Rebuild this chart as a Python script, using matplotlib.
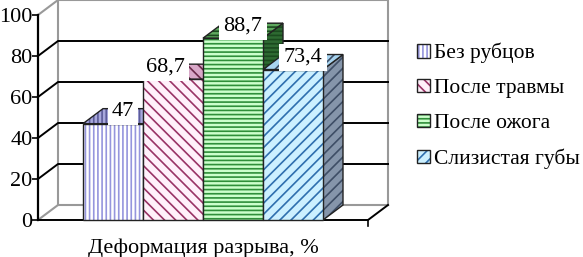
import matplotlib
matplotlib.use("Agg")
import matplotlib.pyplot as plt
from matplotlib.patches import Polygon, Patch
from matplotlib.legend_handler import HandlerTuple

# data
categories = ["Без рубцов", "После травмы", "После ожога", "Слизистая губы"]
values = [47, 68.7, 88.7, 73.4]
value_labels = ["47", "68,7", "88,7", "73,4"]
yticks = [0, 20, 40, 60, 80, 100]
xlabel = "Деформация разрыва, %"

# styles: front face, hatch colour, top face, side face, side hatch, hatch
front_col = ["#ffffff", "#fff0fa", "#ccffcc", "#ccf0ff"]
hatch_col = ["#9595dd", "#993366", "#2f8f3a", "#2f6fae"]
top_col = ["#a8a8dc", "#d8a8c8", "#5fa85f", "#a8d4f0"]
side_col = ["#8888c0", "#a86a8a", "#2e6a32", "#8595aa"]
side_hatch_col = ["#5c5c99", "#6a2a4a", "#1a4a1e", "#3e4e66"]
hatches = ["||||", "\\\\\\", "----", "///"]
label_dx_px = [0, -18, 0, 0]

plt.rcParams["font.family"] = "serif"
plt.rcParams["font.serif"] = ["Liberation Serif", "Times New Roman", "DejaVu Serif"]
plt.rcParams["hatch.linewidth"] = 1.2
FS = 16

W, H = 583, 257
fig = plt.figure(figsize=(W / 100, H / 100), dpi=100)
ax = fig.add_axes([38 / W, 37 / H, 330 / W, 205 / H])
XMAX = 5.5
ax.set_xlim(0, XMAX)
ax.set_ylim(0, 100)
for s in ax.spines.values():
    s.set_visible(False)
ax.set_xticks([])
ax.set_yticks(yticks)
ax.set_yticklabels([str(t) for t in yticks], fontsize=FS)
ax.tick_params(axis="y", length=4, width=1.2, pad=0, colors="black")

DX = 20 / 60.0      # depth offset, x units (px / px per unit)
DY = 15 / 2.05      # depth offset, value units
GRAY = "#999999"

# walls
ax.plot([DX, DX, XMAX + DX, XMAX + DX], [DY, 100 + DY, 100 + DY, DY],
        color=GRAY, lw=1.5, clip_on=False, zorder=1)
ax.plot([0, DX, XMAX + DX], [0, DY, DY], color=GRAY, lw=1.5, clip_on=False, zorder=1)
ax.plot([0, DX], [100, 100 + DY], color=GRAY, lw=1.5, clip_on=False, zorder=1)
for t in yticks[1:-1]:
    ax.plot([0, DX, XMAX + DX], [t, t + DY, t + DY], color="black", lw=1.4,
            clip_on=False, zorder=1)

# floor front + axis
ax.plot([0, XMAX, XMAX + DX], [0, 0, DY], color="black", lw=1.4, clip_on=False, zorder=2)
ax.plot([XMAX, XMAX], [0, -3], color="black", lw=1.2, clip_on=False, zorder=2)
ax.plot([0, 0], [0, 100], color="black", lw=1.6, clip_on=False, zorder=2)


def face(pts, fc, hc, hatch, z):
    ax.add_patch(Polygon(pts, closed=True, facecolor=fc, edgecolor=hc, hatch=hatch,
                         lw=0, clip_on=False, zorder=z))
    ax.add_patch(Polygon(pts, closed=True, fill=False, edgecolor="#222222",
                         lw=1.0, clip_on=False, zorder=z + 0.1))


for i, v in enumerate(values):
    x0 = 0.75 + i
    x1 = x0 + 1
    z = 3 + i
    face([(x1, 0), (x1 + DX, DY), (x1 + DX, v + DY), (x1, v)],
         side_col[i], side_hatch_col[i], hatches[i], z)
    face([(x0, v), (x1, v), (x1 + DX, v + DY), (x0 + DX, v + DY)],
         top_col[i], side_hatch_col[i], hatches[i], z + 0.2)
    face([(x0, 0), (x1, 0), (x1, v), (x0, v)],
         front_col[i], hatch_col[i], hatches[i], z + 0.4)

for i, v in enumerate(values):
    xc = 0.75 + i + 0.5 + DX / 2 + label_dx_px[i] / 60.0
    ax.text(xc, v + 6, value_labels[i], fontsize=FS, ha="center", va="center",
            zorder=20, bbox=dict(facecolor="white", edgecolor="none", pad=3))

ax.text(XMAX / 2, -9, xlabel, fontsize=FS, ha="center", va="top",
        transform=ax.transData)

handles = []
for i in range(len(categories)):
    handles.append((Patch(facecolor=front_col[i], edgecolor=hatch_col[i],
                          hatch=hatches[i], lw=0),
                    Patch(fill=False, edgecolor="#222222", lw=1.0)))
fig.legend(handles, categories, handler_map={tuple: HandlerTuple(ndivide=1)},
           loc="center left", bbox_to_anchor=(417 / W, 1 - 106 / H),
           frameon=False, fontsize=15.5, handlelength=0.6, handleheight=0.6,
           handletextpad=0.2, labelspacing=0.72, borderpad=0, borderaxespad=0)

fig.savefig("out.png", dpi=100)
